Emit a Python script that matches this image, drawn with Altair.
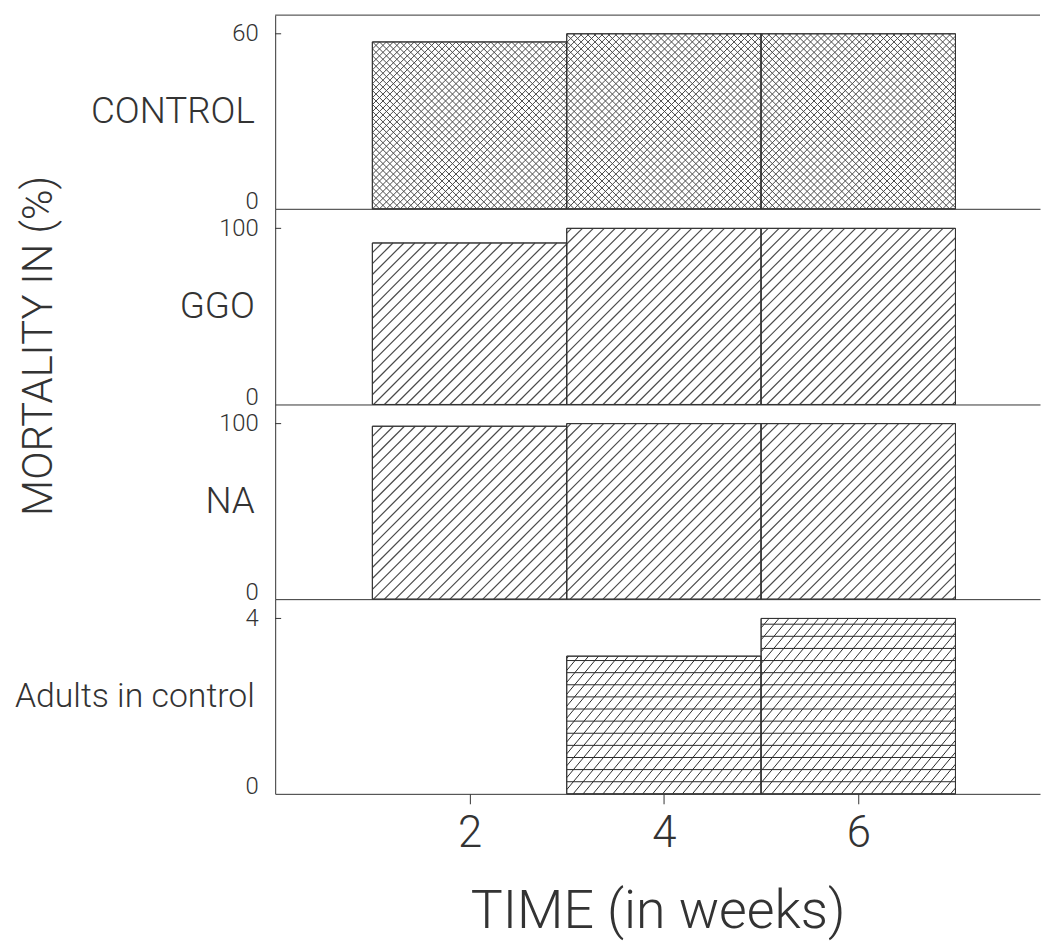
import altair as alt
import pandas as pd

# ---------------- data ----------------
WEEK_START = [1, 3, 5]
WEEK_END = [3, 5, 7]
CONTROL = [57.2, 60, 60]
GGO = [91.7, 100, 100]
NA_VALS = [98.5, 100, 100]
ADULTS = [None, 3.14, 4]

PANEL_TITLES = ["CONTROL", "GGO", "NA", "Adults in control"]
Y_MAX = [66.4, 111.1, 110.9, 4.44]
Y_TICKS = [[0, 60], [0, 100], [0, 100], [0, 4]]
X_TICKS = [2, 4, 6]
X_DOMAIN = [0, 7.87]
X_TITLE = "TIME (in weeks)"
Y_TITLE = "MORTALITY IN (%)"

# ---------------- style ----------------
FONT = "Roboto"
INK = "#333333"
W = 770
HEIGHTS = [195, 197, 196, 196]
TITLE_SIZES = [37, 37, 37, 34]

# hatch styles per panel: (kind, spacing px, slope, color, width)
HATCH = [
    [("up", 7.0, 1.0, "#4a4a4a", 1.0), ("down", 7.0, 1.0, "#4a4a4a", 1.0)],
    [("up", 11.0, 1.0, "#4a4a4a", 1.2)],
    [("up", 11.0, 1.0, "#4a4a4a", 1.2)],
    [("up", 10.0, 1.2, "#2a2a2a", 1.0), ("h", 12.2, 0, "#2a2a2a", 1.0)],
]
SERIES = [CONTROL, GGO, NA_VALS, ADULTS]


def hatch_layer(df, kind, D, m, KX, KY, color, sw):
    X0 = f"(datum.start*{KX})"
    X1 = f"(datum.end*{KX})"
    Y1 = f"(datum.value*{KY})"
    if kind == "up":
        lo = f"ceil(({X0} - {Y1}/{m})/{D})"
        hi = f"floor({X1}/{D})+1"
        xa = f"max({X0}, datum.c)"
        xb = f"min({X1}, datum.c + {Y1}/{m})"
        ya = f"{m}*(datum.xa - datum.c)"
        yb = f"{m}*(datum.xb - datum.c)"
    elif kind == "down":
        lo = f"ceil({X0}/{D})"
        hi = f"floor(({X1} + {Y1}/{m})/{D})+1"
        xa = f"max({X0}, datum.c - {Y1}/{m})"
        xb = f"min({X1}, datum.c)"
        ya = f"{m}*(datum.c - datum.xa)"
        yb = f"{m}*(datum.c - datum.xb)"
    else:
        lo = "1"
        hi = f"ceil({Y1}/{D})"
        xa = X0
        xb = X1
        ya = "datum.c"
        yb = "datum.c"
    return (
        alt.Chart(df)
        .transform_calculate(ks=f"sequence({lo}, {hi})")
        .transform_flatten(["ks"])
        .transform_calculate(c=f"datum.ks*{D}")
        .transform_calculate(xa=xa)
        .transform_calculate(xb=xb)
        .transform_filter("datum.xa < datum.xb")
        .transform_calculate(hx=f"datum.xa/{KX}")
        .transform_calculate(hx2=f"datum.xb/{KX}")
        .transform_calculate(hy=f"({ya})/{KY}")
        .transform_calculate(hy2=f"({yb})/{KY}")
        .mark_rule(color=color, strokeWidth=sw)
        .encode(x="hx:Q", x2="hx2:Q", y="hy:Q", y2="hy2:Q")
    )


def panel(i):
    df = pd.DataFrame({"start": WEEK_START, "end": WEEK_END, "value": SERIES[i]}).dropna()
    h = HEIGHTS[i]
    KX = W / (X_DOMAIN[1] - X_DOMAIN[0])
    KY = h / Y_MAX[i]
    last = i == len(SERIES) - 1
    xscale = alt.Scale(domain=X_DOMAIN, nice=False, zero=False)
    yscale = alt.Scale(domain=[0, Y_MAX[i]], nice=False, zero=True)
    if last:
        xaxis = alt.Axis(values=X_TICKS, format="d", title=X_TITLE, grid=False,
                         domainColor=INK, tickColor=INK, tickSize=10, labelFontSize=44,
                         labelFont=FONT, labelFontWeight=300, labelColor=INK, labelPadding=8,
                         titleFont=FONT, titleFontSize=54, titleFontWeight=300,
                         titleColor=INK, titlePadding=30)
    else:
        xaxis = alt.Axis(labels=False, ticks=False, title=None, grid=False, domainColor=INK)
    yaxis = alt.Axis(values=Y_TICKS[i], ticks=False, grid=False, domainColor=INK,
                     labelFont=FONT, labelFontSize=24, labelFontWeight=300, labelColor=INK,
                     labelPadding=17,
                     labelBaseline={"condition": {"test": "datum.value === 0",
                                                  "value": "alphabetic"},
                                    "value": "middle"},
                     title=PANEL_TITLES[i], titleAngle=0, titleAlign="right",
                     titleBaseline="middle", titleX=-21, titleY=h / 2, titleFont=FONT,
                     titleFontSize=TITLE_SIZES[i], titleFontWeight=300, titleColor=INK)
    layers = [
        alt.Chart(df).mark_rect(fill="white", stroke=INK, strokeWidth=1).encode(
            x=alt.X("start:Q", scale=xscale, axis=xaxis),
            x2="end:Q",
            y=alt.Y("value:Q", scale=yscale, axis=yaxis),
            y2=alt.datum(0),
        )
    ]
    for kind, D, m, color, sw in HATCH[i]:
        layers.append(hatch_layer(df, kind, D, m, KX, KY, color, sw))
    layers.append(
        alt.Chart(df).mark_rect(fillOpacity=0, stroke=INK, strokeWidth=1).encode(
            x="start:Q", x2="end:Q", y="value:Q", y2=alt.datum(0)
        )
    )
    tick_df = pd.DataFrame({"value": Y_TICKS[i][1:]})
    layers.append(
        alt.Chart(tick_df).mark_rule(color=INK, strokeWidth=1).encode(
            y=alt.Y("value:Q"), x=alt.value(0), x2=alt.value(6)
        )
    )
    if i == 0:
        layers.append(
            alt.Chart(tick_df).mark_rule(color=INK, strokeWidth=1).encode(
                y=alt.value(0), x=alt.value(0), x2=alt.value(W)
            )
        )
    if i == 1:
        layers.append(
            alt.Chart(pd.DataFrame({"t": [Y_TITLE]})).mark_text(
                angle=270, fontSize=42, font=FONT, fontWeight=300, color=INK,
                align="center", baseline="middle"
            ).encode(text="t:N", x=alt.value(36 - 274), y=alt.value(345 - 207))
        )
    return alt.layer(*layers).properties(width=W, height=h)


chart = alt.vconcat(*[panel(i) for i in range(4)], spacing=0, bounds="flush").properties(
    padding={"left": 6, "top": 3, "right": 0, "bottom": 0}
).configure_view(stroke=None)

chart.save("out.html", embed_options={"renderer": "svg", "actions": False})
